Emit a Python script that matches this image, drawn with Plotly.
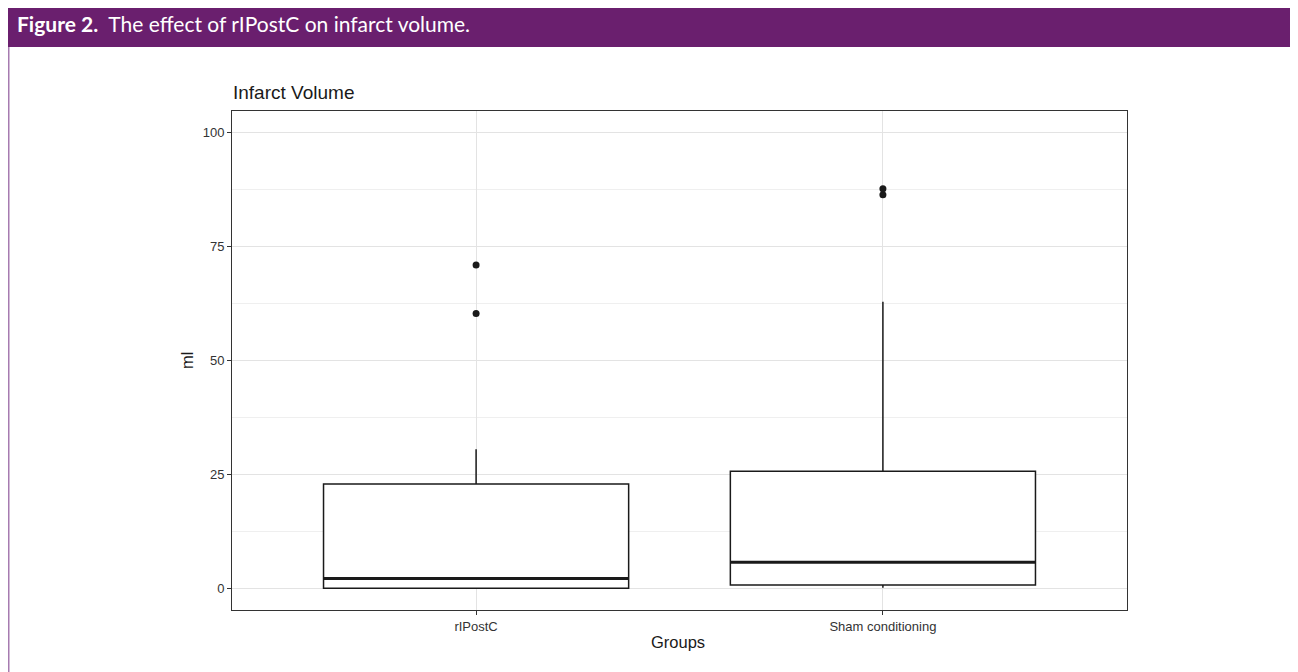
import plotly.graph_objects as go

# ---- data ----
groups = ["rIPostC", "Sham conditioning"]
q1 = [0.0, 0.7]
median = [2.1, 5.7]
q3 = [22.9, 25.7]
lower_fence = [0.0, 0.1]
upper_fence = [30.5, 62.9]
outliers = [[60.3, 71.0], [86.4, 87.7]]
y_ticks = [0, 25, 50, 75, 100]

OFF = 8  # page body margin
W, H = 1298 - OFF, 672 - OFF
def px(x):
    return (x - OFF) / W
def py(y):
    return 1 - (y - OFF) / H

BOX_W = 0.75
fig = go.Figure()
for i, g in enumerate(groups):
    pos = i + 1
    fig.add_trace(go.Box(
        x=[pos], q1=[q1[i]], median=[median[i]], q3=[q3[i]],
        lowerfence=[lower_fence[i]], upperfence=[upper_fence[i]],
        width=BOX_W, fillcolor="white", line=dict(color="#1a1a1a", width=1.5),
        boxpoints=False, whiskerwidth=0, showlegend=False, name=g,
        hoverinfo="skip"))
    # thicker median line (ggplot style)
    fig.add_trace(go.Scatter(
        x=[pos - BOX_W / 2, pos + BOX_W / 2], y=[median[i], median[i]],
        mode="lines", line=dict(color="#1a1a1a", width=3),
        showlegend=False, hoverinfo="skip"))
    fig.add_trace(go.Scatter(
        x=[pos] * len(outliers[i]), y=outliers[i], mode="markers",
        marker=dict(color="#1a1a1a", size=7), showlegend=False, hoverinfo="skip"))

x0p, x1p, y0p, y1p = 232, 1127, 111, 610
fig.update_layout(
    width=W, height=H, margin=dict(l=0, r=0, t=0, b=0, pad=0),
    paper_bgcolor="white", plot_bgcolor="white",
    font=dict(family="Liberation Sans, Arial, sans-serif"),
    xaxis=dict(domain=[px(x0p), px(x1p)], range=[0.4, 2.6],
               tickvals=[1, 2], ticktext=groups,
               ticks="outside", ticklen=4, tickcolor="#333333", tickwidth=1,
               tickfont=dict(size=13, color="#333333"),
               showgrid=True, gridcolor="#e3e3e3", gridwidth=1,
               zeroline=False, showline=True, linecolor="#333333", linewidth=1,
               mirror=True),
    yaxis=dict(domain=[py(y1p), py(y0p)], range=[-4.8, 104.8],
               tickvals=y_ticks,
               ticks="outside", ticklen=4, tickcolor="#333333", tickwidth=1,
               tickfont=dict(size=13, color="#333333"),
               showgrid=True, gridcolor="#e3e3e3", gridwidth=1,
               minor=dict(dtick=12.5, tick0=12.5, showgrid=True,
                          gridcolor="#efefef", gridwidth=0.8, ticks=""),
               zeroline=False, showline=True, linecolor="#333333", linewidth=1,
               mirror=True),
)

purple = "#6a1f6e"
border = "#a67bb0"
shapes = [
    dict(type="rect", xref="paper", yref="paper", x0=px(7), x1=px(1297),
         y0=py(47), y1=1.0, fillcolor=purple, line=dict(width=0), layer="below"),
    dict(type="line", xref="paper", yref="paper", x0=px(8.5), x1=px(8.5),
         y0=py(47), y1=0, line=dict(color=border, width=2)),
    dict(type="line", xref="paper", yref="paper", x0=px(1296.5), x1=px(1296.5),
         y0=py(47), y1=0, line=dict(color=border, width=2)),
]
fig.update_layout(shapes=shapes)

ann = [
    dict(text="<b>Figure 2.</b>  The effect of rIPostC on infarct volume.",
         x=px(15), y=py(24), xref="paper", yref="paper", xanchor="left",
         yanchor="middle", showarrow=False,
         font=dict(family="Lato, Open Sans, sans-serif", size=21, color="white")),
    dict(text="Infarct Volume", x=px(231), y=py(92), xref="paper", yref="paper",
         xanchor="left", yanchor="middle", showarrow=False,
         font=dict(size=19, color="#1a1a1a")),
    dict(text="ml", x=px(187), y=py(361), xref="paper", yref="paper",
         xanchor="center", yanchor="middle", showarrow=False, textangle=-90,
         font=dict(size=16.5, color="#1a1a1a")),
    dict(text="Groups", x=px(678), y=py(642), xref="paper", yref="paper",
         xanchor="center", yanchor="middle", showarrow=False,
         font=dict(size=16.5, color="#1a1a1a")),
]
fig.update_layout(annotations=ann)

fig.write_html("out.html")
